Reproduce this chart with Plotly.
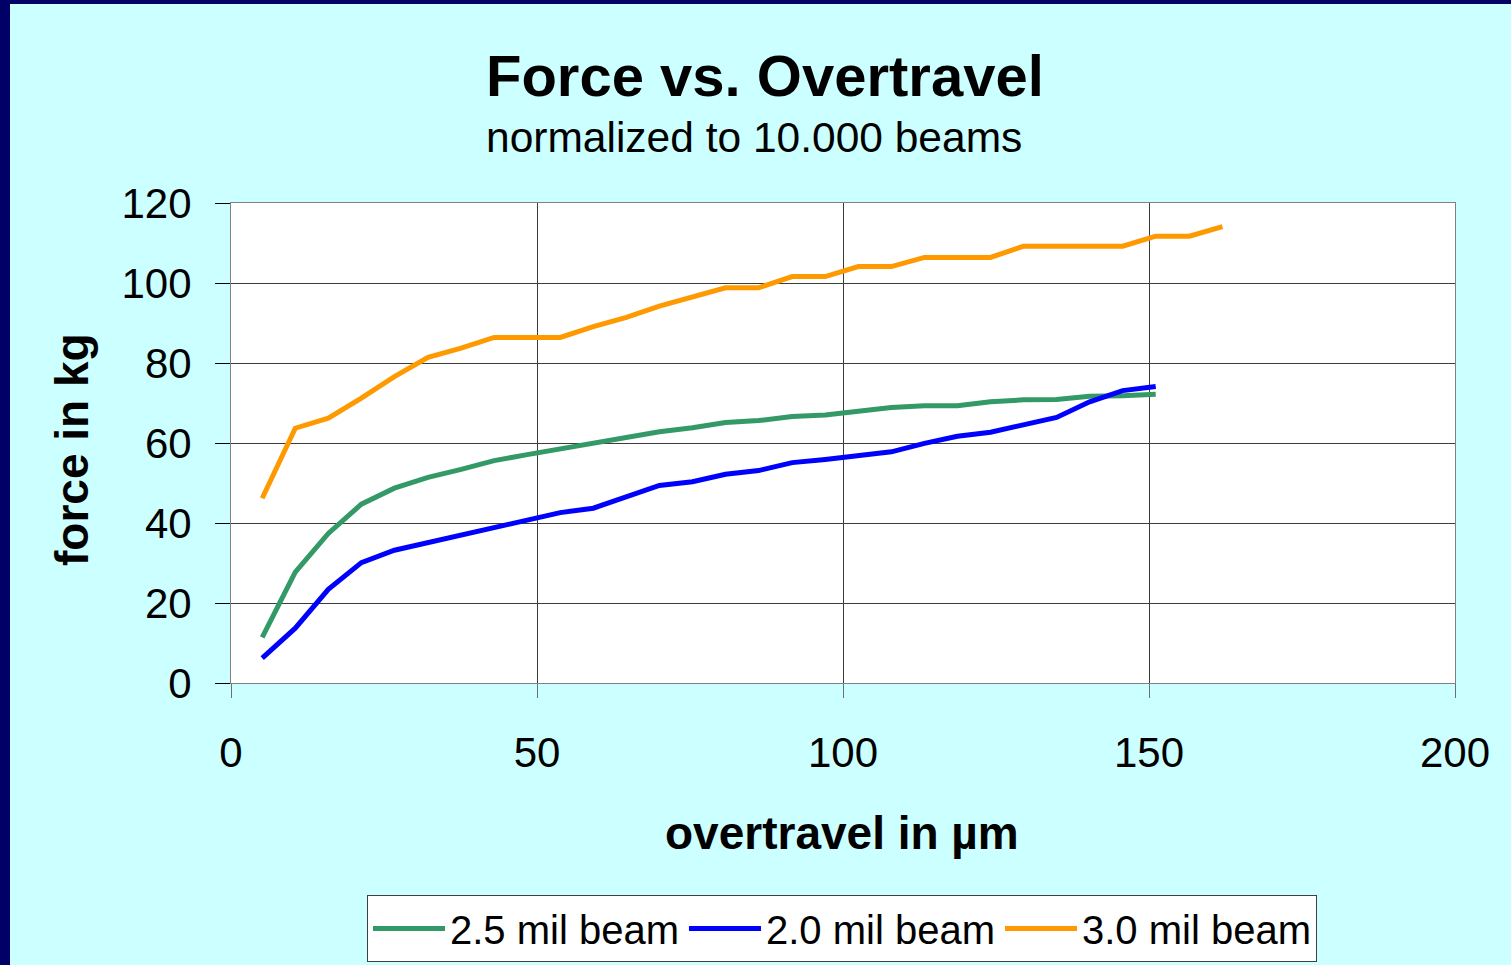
import plotly.graph_objects as go

# ---- data ----
overtravel_um = [5.1, 10.5, 15.9, 21.3, 26.7, 32.2, 37.6, 43.0, 48.4, 53.8,
                 59.2, 64.6, 70.0, 75.4, 80.8, 86.2, 91.7, 97.1, 102.5, 107.9,
                 113.3, 118.7, 124.1, 129.5, 134.9, 140.3, 145.7, 151.1, 156.6, 162.0]

force_25mil = [11.4, 27.7, 37.4, 44.7, 48.7, 51.4, 53.4, 55.6, 57.1, 58.5,
               60.0, 61.5, 62.8, 63.8, 65.1, 65.6, 66.6, 67.0, 68.1, 68.9,
               69.3, 69.3, 70.3, 70.8, 70.9, 71.7, 71.8, 72.2]

force_20mil = [6.2, 13.7, 23.4, 30.1, 33.2, 35.1, 37.0, 38.9, 40.5, 42.6,
               43.7, 46.4, 49.4, 50.3, 52.2, 53.1, 55.1, 55.9, 57.0, 57.8,
               59.9, 61.7, 62.7, 64.7, 66.4, 70.3, 73.1, 74.1]

force_30mil = [46.2, 63.7, 66.2, 71.2, 76.6, 81.4, 83.7, 86.4, 86.4, 86.4,
               89.1, 91.4, 94.2, 96.6, 98.8, 98.8, 101.6, 101.6, 104.1, 104.1,
               106.4, 106.4, 106.4, 109.2, 109.2, 109.2, 109.2, 111.7, 111.7, 114.1]

series_names = ["2.5 mil beam", "2.0 mil beam", "3.0 mil beam"]
series_colors = ["#339966", "#0000FF", "#FF9900"]
series_values = [force_25mil, force_20mil, force_30mil]

title_text = "Force vs. Overtravel"
subtitle_text = "normalized to 10.000 beams"
x_title = "overtravel in µm"
y_title = "force in kg"

# ---- layout geometry ----
W, H = 1511, 965
L, R, T, B = 231, 1455, 203, 683
FONT = "Arial, 'Liberation Sans', sans-serif"


def px_x(p):
    return (p - L) / (R - L)


def px_y(p):
    return (B - p) / (B - T)


fig = go.Figure()
for name, color, vals in zip(series_names, series_colors, series_values):
    fig.add_trace(go.Scatter(
        x=overtravel_um[:len(vals)], y=vals, name=name, mode="lines",
        line=dict(color=color, width=5),
    ))

axis_common = dict(
    showgrid=True, gridcolor="#3c3c3c", gridwidth=1,
    showline=True, linecolor="#808080", linewidth=1, mirror=True,
    ticks="outside",
    tickfont=dict(family=FONT, size=42, color="black"),
    zeroline=False, automargin=False,
)

fig.update_xaxes(range=[0, 200], dtick=50, tick0=0, ticklen=14,
                 tickcolor="#707070", ticklabelstandoff=19, **axis_common)
fig.update_yaxes(range=[0, 120], dtick=20, tick0=0, ticklen=15,
                 tickcolor="black", ticklabelstandoff=15, **axis_common)

fig.update_layout(
    width=W, height=H,
    margin=dict(l=L, r=W - R, t=T, b=H - B, pad=0, autoexpand=False),
    paper_bgcolor="#CCFFFF",
    plot_bgcolor="white",
    font=dict(family=FONT, color="black"),
    showlegend=True,
    legend=dict(
        orientation="h", x=px_x(367), xanchor="left", y=px_y(895), yanchor="top",
        bgcolor="white", bordercolor="#404040", borderwidth=1,
        font=dict(family=FONT, size=40, color="black"),
        itemwidth=72, traceorder="normal",
    ),
    shapes=[
        dict(type="rect", xref="paper", yref="paper", layer="below",
             x0=px_x(0), x1=px_x(10), y0=px_y(H), y1=px_y(0),
             fillcolor="#000066", line=dict(width=0)),
        dict(type="rect", xref="paper", yref="paper", layer="below",
             x0=px_x(0), x1=px_x(W), y0=px_y(4), y1=px_y(0),
             fillcolor="#000066", line=dict(width=0)),
    ],
    annotations=[
        dict(text="<b>" + title_text + "</b>", xref="paper", yref="paper",
             x=px_x(765), y=px_y(75), xanchor="center", yanchor="middle",
             showarrow=False, font=dict(family=FONT, size=58, color="black")),
        dict(text=subtitle_text, xref="paper", yref="paper",
             x=px_x(754), y=px_y(137), xanchor="center", yanchor="middle",
             showarrow=False, font=dict(family=FONT, size=42.5, color="black")),
        dict(text="<b>" + x_title + "</b>", xref="paper", yref="paper",
             x=px_x(842), y=px_y(833), xanchor="center", yanchor="middle",
             showarrow=False, font=dict(family=FONT, size=46, color="black")),
        dict(text="<b>" + y_title + "</b>", xref="paper", yref="paper",
             x=px_x(72), y=px_y(450), xanchor="center", yanchor="middle",
             textangle=-90, showarrow=False,
             font=dict(family=FONT, size=46, color="black")),
    ],
)

fig.write_html("out.html")
